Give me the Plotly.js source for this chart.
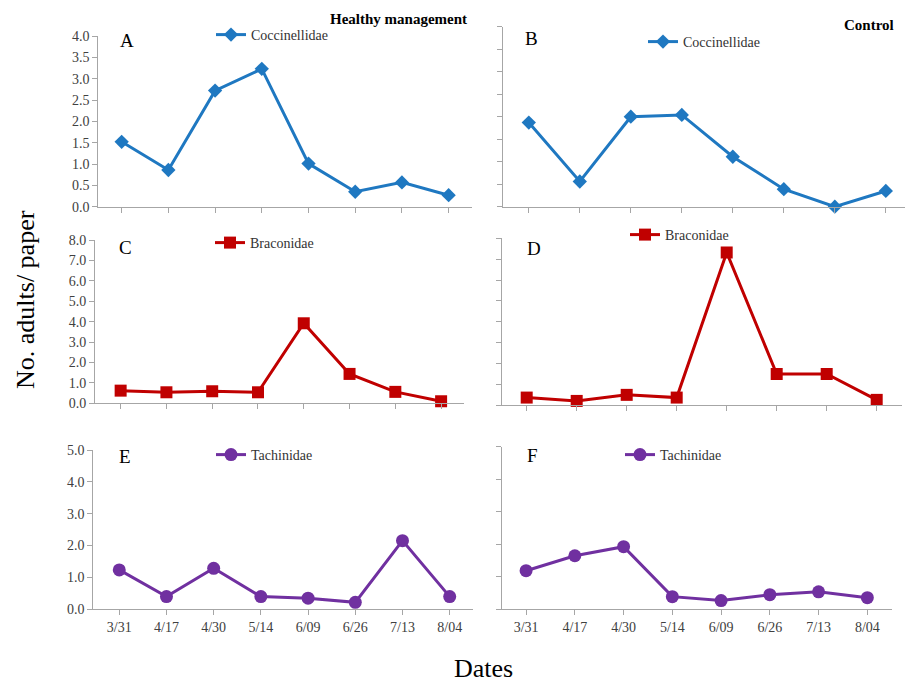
<!DOCTYPE html>
<html>
<head>
<meta charset="utf-8">
<script src="https://cdn.plot.ly/plotly-3.0.1.min.js"></script>
<style>html,body{margin:0;padding:0;background:#fff;}#chart{width:905px;height:684px;}</style>
</head>
<body>
<div id="chart"></div>
<script>
const dates = ['3/31','4/17','4/30','5/14','6/09','6/26','7/13','8/04'];
const coccHealthy = [1.52,0.86,2.72,3.23,1.01,0.35,0.57,0.27];
const coccControl = [1.87,0.56,2.00,2.04,1.11,0.39,0.00,0.35];
const braHealthy = [0.62,0.54,0.59,0.54,3.92,1.44,0.56,0.10];
const braControl = [0.37,0.21,0.50,0.37,7.32,1.50,1.50,0.26];
const tachHealthy = [1.23,0.39,1.28,0.39,0.34,0.21,2.15,0.39];
const tachControl = [1.18,1.64,1.92,0.38,0.26,0.44,0.53,0.35];
const panelLetters = ['A','B','C','D','E','F'];
const familyNames = ['Coccinellidae','Braconidae','Tachinidae'];
const treatmentNames = ['Healthy management','Control'];

const W = 905, H = 684;
const px = v => v / W;
const py = v => 1 - v / H;
const serif = 'Liberation Serif';
const blue = '#1F78C1', red = '#C00000', purple = '#7030A0';
const axisCol = '#A6A6A6';

function tr(y, name, color, symbol, size, xa, ya, leg) {
  return {x: dates, y: y, name: name, type: 'scatter', mode: 'lines+markers',
    line: {color: color, width: 3}, marker: {color: color, symbol: symbol, size: size},
    xaxis: xa, yaxis: ya, legend: leg, showlegend: true, cliponaxis: false};
}
const data = [
  tr(coccHealthy, familyNames[0], blue, 'diamond', 11, 'x', 'y', 'legend'),
  tr(coccControl, familyNames[0], blue, 'diamond', 11, 'x2', 'y2', 'legend2'),
  tr(braHealthy, familyNames[1], red, 'square', 12, 'x3', 'y3', 'legend3'),
  tr(braControl, familyNames[1], red, 'square', 12, 'x4', 'y4', 'legend4'),
  tr(tachHealthy, familyNames[2], purple, 'circle', 13, 'x5', 'y5', 'legend5'),
  tr(tachControl, familyNames[2], purple, 'circle', 13, 'x6', 'y6', 'legend6')
];

function xax(x0, x1, range, labels, anchor) {
  return {domain: [px(x0), px(x1)], range: range, type: 'category', anchor: anchor,
    showline: true, linecolor: axisCol, linewidth: 1, ticks: 'outside', ticklen: 5,
    tickcolor: axisCol, showgrid: false, zeroline: false, showticklabels: labels,
    tickfont: {family: serif, size: 14, color: '#404040'}, fixedrange: true};
}
function yax(y0, y1, range, dtick, labels, anchor) {
  return {domain: [py(y1), py(y0)], range: range, dtick: dtick, tick0: 0, anchor: anchor,
    showline: true, linecolor: axisCol, linewidth: 1, ticks: 'outside', ticklen: 5,
    tickcolor: axisCol, showgrid: false, zeroline: false, showticklabels: labels,
    tickformat: '.1f', tickfont: {family: serif, size: 14, color: '#404040'}, fixedrange: true};
}
function leg(x, y) {
  return {x: px(x), y: py(y), xanchor: 'left', yanchor: 'middle', bgcolor: 'rgba(0,0,0,0)',
    font: {family: serif, size: 14, color: '#333'}, itemwidth: 30, borderwidth: 0, tracegroupgap: 0};
}
function ann(text, x, y, size, bold, opts) {
  return Object.assign({text: bold ? '<b>' + text + '</b>' : text, x: px(x), y: py(y),
    xref: 'paper', yref: 'paper', showarrow: false, xanchor: 'left', yanchor: 'middle',
    font: {family: serif, size: size, color: '#000'}}, opts || {});
}

const layout = {
  width: W, height: H, margin: {l: 0, r: 0, t: 0, b: 0},
  paper_bgcolor: '#fff', plot_bgcolor: 'rgba(0,0,0,0)', showlegend: true,
  xaxis: xax(98.3, 472, [-0.5, 7.5], false, 'y'),
  yaxis: yax(36, 206.7, [0, 4], 0.5, true, 'x'),
  xaxis2: xax(503.3, 905, [-0.5, 7.376], false, 'y2'),
  yaxis2: yax(26.7, 206.7, [0, 4], 0.5, false, 'x2'),
  xaxis3: xax(95, 464, [-0.56, 7.5], false, 'y3'),
  yaxis3: yax(240, 403.3, [0, 8], 1, true, 'x3'),
  xaxis4: xax(501.7, 901.7, [-0.5, 7.5], false, 'y4'),
  yaxis4: yax(238.3, 405.3, [0, 8], 1, false, 'x4'),
  xaxis5: xax(93.3, 473.3, [-0.55, 7.5], true, 'y5'),
  yaxis5: yax(450, 609, [0, 5], 1, true, 'x5'),
  xaxis6: xax(501.7, 891.7, [-0.5, 7.5], true, 'y6'),
  yaxis6: yax(446.7, 609, [0, 5], 1, false, 'x6'),
  legend: leg(211, 35),
  legend2: leg(643, 42),
  legend3: leg(210, 243),
  legend4: leg(625, 235),
  legend5: leg(211, 455),
  legend6: leg(620, 455),
  annotations: [
    ann(panelLetters[0], 118, 40, 19, false),
    ann(panelLetters[1], 523, 38, 19, false),
    ann(panelLetters[2], 117, 247, 19, false),
    ann(panelLetters[3], 525, 248, 19, false),
    ann(panelLetters[4], 117, 456, 19, false),
    ann(panelLetters[5], 525, 455, 19, false),
    ann(treatmentNames[0], 469, 19, 15, true, {xanchor: 'right'}),
    ann(treatmentNames[1], 896, 25, 15, true, {xanchor: 'right'}),
    ann('No. adults/ paper', 25, 300, 26, false, {xanchor: 'center', textangle: -90}),
    ann('Dates', 483, 668, 26, false, {xanchor: 'center'})
  ]
};
Plotly.newPlot('chart', data, layout, {displayModeBar: false, staticPlot: true});
</script>
</body>
</html>
